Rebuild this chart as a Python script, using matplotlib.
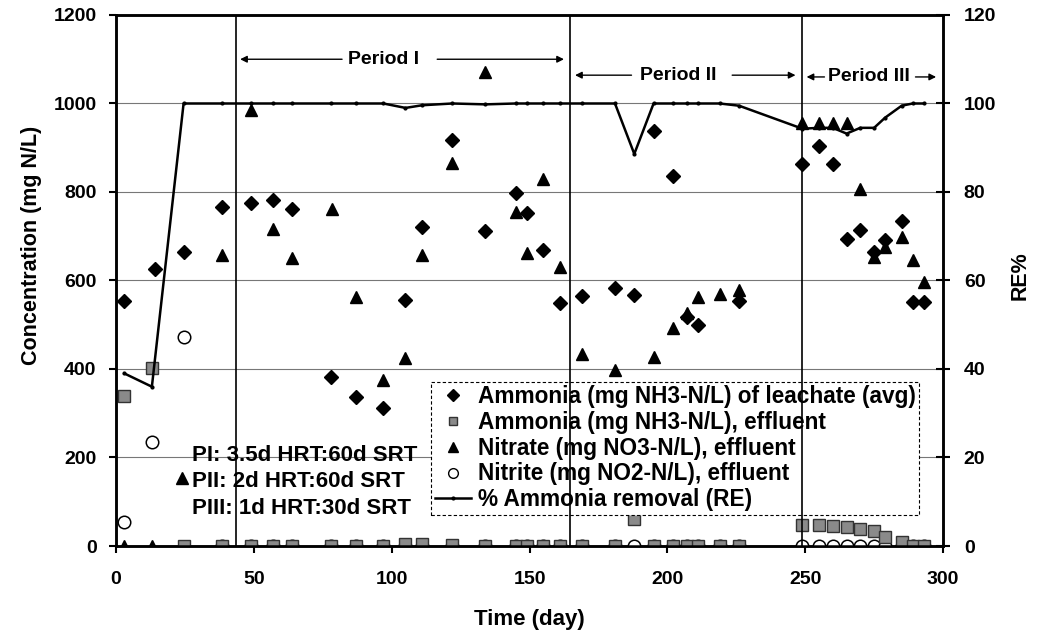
import matplotlib
matplotlib.use("Agg")
import matplotlib.pyplot as plt
from matplotlib.lines import Line2D

plt.rcParams['font.family'] = ['Liberation Sans', 'DejaVu Sans']
plt.rcParams['font.weight'] = 'bold'
plt.rcParams['axes.labelweight'] = 'bold'

# ammonia in leachate (avg)
leach_day = [3, 14, 24.5, 38.5, 49, 57, 64, 78, 87, 97, 105, 111, 122, 134, 145, 149,
             155, 161, 169, 181, 188, 195, 202, 207, 211, 226,
             249, 255, 260, 265, 270, 275, 279, 285, 289, 293]
leach_val = [553, 625, 665, 767, 775, 782, 762, 382, 337, 312, 556, 721, 918, 712, 798, 752,
             670, 550, 565, 583, 567, 938, 836, 517, 500, 553,
             863, 905, 863, 693, 714, 664, 691, 734, 552, 552]

# effluent sampling days (ammonia, nitrite, RE)
eff_day = [3, 13, 24.5, 38.5, 49, 57, 64, 78, 87, 97, 105, 111, 122, 134, 145, 149,
           155, 161, 169, 181, 188, 195, 202, 207, 211, 219, 226,
           249, 255, 260, 265, 270, 275, 279, 285, 289, 293]
eff_val = [338, 402, 0, 0, 0, 0, 0, 0, 0, 0, 5, 4, 2, 0, 0, 0,
           0, 0, 0, 0, 60, 0, 0, 0, 0, 0, 0,
           47, 47, 46, 43, 38, 33, 21, 10, 0, 0]
nitrite_val = [55, 235, 472, 0, 0, 0, 0, 0, 0, 0, 0, 0, 0, 0, 0, 0,
               0, 0, 0, 0, 0, 0, 0, 0, 0, 0, 0,
               0, 0, 0, 0, 0, 0, 0, 0, 0, 0]
re_val = [39, 36, 100, 100, 100, 100, 100, 100, 100, 100, 99, 99.6, 100, 99.8, 100, 100,
          100, 100, 100, 100, 88.6, 100, 100, 100, 100, 100, 99.5,
          94.3, 94.5, 94.5, 93.2, 94.5, 94.5, 96.8, 99.5, 100, 100]

# nitrate effluent
nit_day = [3, 13, 24, 38.5, 49, 57, 64, 78.5, 87, 97, 105, 111, 122, 134, 145, 149,
           155, 161, 169, 181, 195, 202, 207, 211, 219, 226,
           249, 255, 260, 265, 270, 275, 279, 285, 289, 293]
nit_val = [0, 0, 154, 657, 985, 716, 651, 761, 563, 375, 425, 657, 866, 1072, 754, 662,
           829, 631, 433, 398, 428, 492, 526, 562, 569, 578,
           956, 956, 956, 956, 806, 653, 675, 698, 646, 597]

period_lines = [43.5, 164.7, 248.8]
periods = [("Period I", 1100, 44, 83, 97, 115.5, 163.5),
           ("Period II", 1064, 165.5, 188, 204, 222.5, 247.5),
           ("Period III", 1060, 249.5, 258, 273, 289, 298.5)]
notes = ["PI: 3.5d HRT:60d SRT", "PII: 2d HRT:60d SRT", "PIII: 1d HRT:30d SRT"]

fig = plt.figure(figsize=(10.38, 6.38), dpi=100)
ax = fig.add_axes([0.1118, 0.1442, 0.7967, 0.8323])
ax2 = ax.twinx()

ax.set_xlim(0, 300)
ax.set_ylim(0, 1200)
ax2.set_ylim(0, 120)
ax.set_xticks(range(0, 301, 50))
ax.set_yticks(range(0, 1201, 200))
ax2.set_yticks(range(0, 121, 20))
ax.yaxis.grid(True, color="#777", lw=0.8)
ax.set_axisbelow(True)

ax.plot(eff_day, nitrite_val, "o", ms=9, mfc="white", mec="black", mew=1.1, zorder=3)
ax.plot(eff_day, eff_val, "s", ms=8, mfc="#8a8a8a", mec="#333", mew=1.0, zorder=4)
ax.plot(nit_day, nit_val, "^", ms=9, color="black", zorder=4)
ax.plot(leach_day, leach_val, "D", ms=7.5, color="black", zorder=4)
ax2.plot(eff_day, re_val, "-", color="black", lw=1.8, marker="o", ms=2, zorder=3)

for d in period_lines:
    ax2.axvline(d, color="black", lw=1.2, zorder=6)

for label, y, a0, a1, xc, b0, b1 in periods:
    ax.annotate("", xy=(a0, y), xytext=(a1, y),
                arrowprops=dict(arrowstyle="-|>", color="black", lw=1, mutation_scale=10))
    ax.annotate("", xy=(b1, y), xytext=(b0, y),
                arrowprops=dict(arrowstyle="-|>", color="black", lw=1, mutation_scale=10))
    ax.text(xc, y, label, ha="center", va="center", fontsize=14)

for i, s in enumerate(notes):
    ax.text(27.5, 205 - i * 60, s, ha="left", va="center", fontsize=16)

handles = [
    Line2D([], [], ls="none", marker="D", ms=6, color="black"),
    Line2D([], [], ls="none", marker="s", ms=6, mfc="#8a8a8a", mec="#333"),
    Line2D([], [], ls="none", marker="^", ms=7, color="black"),
    Line2D([], [], ls="none", marker="o", ms=7, mfc="white", mec="black"),
    Line2D([], [], ls="-", lw=1.8, marker="o", ms=2, color="black"),
]
labels = ["Ammonia (mg NH3-N/L) of leachate (avg)",
          "Ammonia (mg NH3-N/L), effluent",
          "Nitrate (mg NO3-N/L), effluent",
          "Nitrite (mg NO2-N/L), effluent",
          "% Ammonia removal (RE)"]
leg = ax2.legend(handles, labels, loc="upper left", bbox_to_anchor=(0.381, 0.309),
                 fontsize=16.3, frameon=True, fancybox=False, framealpha=1,
                 handlelength=1.6, handletextpad=0.3, labelspacing=0.12,
                 borderpad=0.15, borderaxespad=0)
leg.get_frame().set_edgecolor("black")
leg.get_frame().set_linestyle((0, (3, 2)))
leg.get_frame().set_linewidth(0.8)

for a in (ax, ax2):
    for sp in a.spines.values():
        sp.set_linewidth(1.8)
ax.tick_params(axis="x", labelsize=14, width=1.5, length=5, pad=13)
ax.tick_params(axis="y", labelsize=14, width=1.5, length=5, pad=9)
ax2.tick_params(axis="y", labelsize=14, width=1.5, length=10, direction="inout", pad=10)

ax.set_xlabel("Time (day)", fontsize=16)
ax.set_ylabel("Concentration (mg N/L)", fontsize=15.5)
ax2.set_ylabel("RE%", fontsize=15.5)
ax.xaxis.set_label_coords(0.5, -0.119)
ax.yaxis.set_label_coords(-0.0895, 0.567)
ax2.yaxis.set_label_coords(1.080, 0.51)

fig.savefig("out.png", dpi=100)
